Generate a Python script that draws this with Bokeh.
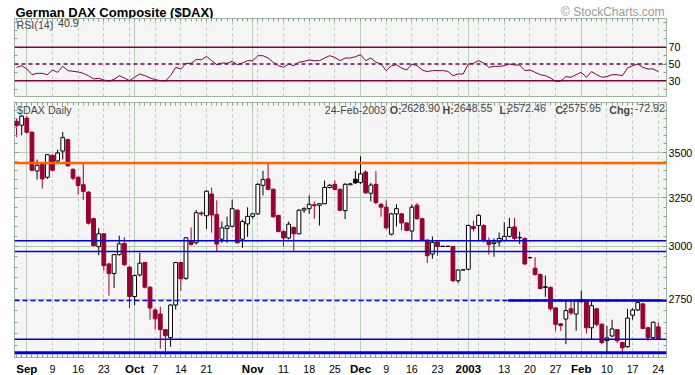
import pandas as pd
from bokeh.plotting import figure
from bokeh.layouts import column
from bokeh.models import (Range1d, FixedTicker, LinearAxis, LogAxis, Grid, Span, Label,
                          ColumnDataSource, CustomJSTickFormatter, PrintfTickFormatter)
from bokeh.core.properties import value
from bokeh.embed import file_html
from bokeh.resources import INLINE

# ---------------- data ----------------
market_holidays = ["2002-12-25", "2003-01-01"]
days = [d for d in pd.bdate_range("2002-08-29", "2003-02-24")
        if d.strftime("%Y-%m-%d") not in market_holidays]
day_str = [d.strftime("%Y-%m-%d") for d in days]

opens = [3685, 3661, 3703, 3619, 3396, 3437, 3361, 3484, 3452, 3509,
         3575, 3405, 3361, 3320, 3280, 3140, 2999, 3063, 2915, 2870,
         2960, 3015, 2900, 2763, 2863, 2922, 2806, 2703, 2685, 2617,
         2583, 2725, 2922, 2847, 3029, 3018, 3170, 3155, 3270, 3162,
         3036, 3090, 3101, 3184, 3036, 3113, 3152, 3165, 3317, 3352,
         3295, 3157, 3075, 3042, 3095, 3063, 3184, 3192, 3213, 3210,
         3218, 3305, 3322, 3295, 3182, 3320, 3350, 3332, 3390, 3274,
         3322, 3215, 3200, 3061, 3165, 3165, 3118, 3077, 3210, 3140,
         3032, 2963, 3022, 3000, 3000, 3000, 2836, 2886, 2890, 3100,
         3105, 3105, 3030, 3015, 3022, 3030, 3050, 3098, 3043, 3040,
         2945, 2895, 2865, 2805, 2805, 2712, 2642, 2663, 2708, 2685,
         2740, 2744, 2625, 2708, 2640, 2570, 2590, 2617, 2562, 2545,
         2680, 2703, 2730, 2625, 2583, 2628.90]
highs = [3700, 3722, 3716, 3625, 3460, 3440, 3490, 3490, 3517, 3620,
         3580, 3410, 3365, 3437, 3285, 3145, 3091, 3066, 2920, 2962,
         3054, 3046, 2905, 2865, 2970, 2925, 2810, 2710, 2717, 2620,
         2728, 2925, 2925, 3045, 3095, 3185, 3178, 3290, 3304, 3236,
         3125, 3150, 3240, 3190, 3135, 3199, 3170, 3330, 3397, 3440,
         3300, 3160, 3080, 3125, 3100, 3190, 3200, 3262, 3230, 3220,
         3343, 3325, 3345, 3300, 3330, 3330, 3397, 3479, 3400, 3330,
         3395, 3222, 3235, 3170, 3215, 3170, 3122, 3215, 3222, 3145,
         3035, 3050, 3025, 3000, 3000, 3002, 2890, 2886, 3110, 3130,
         3165, 3112, 3045, 3040, 3070, 3122, 3144, 3144, 3074, 3045,
         2950, 2947, 2870, 2860, 2810, 2715, 2645, 2744, 2744, 2750,
         2790, 2748, 2744, 2712, 2645, 2633, 2660, 2620, 2566, 2708,
         2710, 2744, 2735, 2630, 2652, 2648.55]
lows = [3591, 3601, 3612, 3395, 3348, 3299, 3352, 3395, 3445, 3460,
        3420, 3345, 3267, 3237, 3110, 3000, 2957, 2883, 2767, 2802,
        2955, 2905, 2712, 2725, 2855, 2800, 2660, 2617, 2537, 2511,
        2544, 2705, 2790, 2840, 3005, 3010, 3155, 3088, 3069, 2975,
        3018, 3018, 3095, 3015, 2993, 3048, 3140, 3160, 3262, 3290,
        3145, 3070, 3000, 3035, 2980, 3060, 3170, 3165, 3140, 3105,
        3215, 3300, 3290, 3180, 3138, 3318, 3325, 3325, 3270, 3230,
        3215, 3150, 3085, 3055, 3100, 3080, 3075, 3029, 3135, 3025,
        2920, 2940, 2955, 3000, 3000, 2830, 2825, 2886, 2885, 3075,
        3029, 3020, 2960, 2950, 3000, 3025, 3045, 3030, 3012, 2910,
        2940, 2860, 2795, 2762, 2700, 2612, 2612, 2555, 2680, 2612,
        2735, 2600, 2576, 2630, 2555, 2520, 2585, 2560, 2523, 2540,
        2660, 2698, 2620, 2570, 2576, 2572.46]
closes = [3659, 3716, 3619, 3400, 3428, 3352, 3488, 3400, 3498, 3587,
          3425, 3356, 3316, 3284, 3117, 3004, 3063, 2907, 2870, 2960,
          3013, 2912, 2763, 2860, 2919, 2806, 2712, 2664, 2617, 2591,
          2725, 2922, 2845, 3043, 3010, 3171, 3165, 3285, 3159, 3012,
          3093, 3103, 3192, 3018, 3125, 3152, 3165, 3322, 3348, 3295,
          3150, 3075, 3042, 3112, 3063, 3184, 3192, 3215, 3208, 3218,
          3305, 3317, 3295, 3184, 3322, 3325, 3330, 3380, 3276, 3318,
          3224, 3200, 3093, 3165, 3192, 3118, 3080, 3200, 3140, 3032,
          2955, 3020, 3000, 3000, 3000, 2836, 2886, 2886, 3105, 3090,
          3157, 3029, 3010, 3022, 3040, 3050, 3095, 3040, 3045, 2915,
          2946, 2865, 2800, 2808, 2708, 2640, 2635, 2700, 2690, 2744,
          2748, 2625, 2722, 2640, 2562, 2582, 2620, 2570, 2540, 2667,
          2703, 2736, 2622, 2583, 2648.87, 2575.95]
rsi = [46.0, 48.0, 44.1, 37.3, 38.9, 38.9, 37.3, 42.9, 40.1, 47.2,
       42.1, 41.3, 40.5, 38.9, 36.1, 32.2, 33.0, 31.0, 29.4, 31.8,
       36.1, 33.4, 30.2, 34.2, 38.1, 36.1, 33.4, 31.4, 30.2, 29.8,
       36.1, 46.0, 44.1, 50.8, 50.8, 55.5, 55.1, 59.1, 54.0, 49.2,
       51.2, 50.8, 53.2, 49.2, 51.2, 54.0, 54.0, 59.9, 59.9, 57.1,
       52.0, 48.0, 46.0, 50.0, 48.0, 52.0, 53.2, 54.8, 54.0, 54.0,
       57.1, 59.9, 57.9, 54.0, 57.1, 57.1, 58.7, 61.1, 54.0, 57.1,
       52.0, 50.0, 42.1, 48.0, 49.2, 45.2, 42.9, 50.0, 48.0, 42.9,
       40.9, 42.1, 42.1, 42.1, 41.3, 36.1, 38.1, 38.1, 50.0, 50.8,
       54.0, 51.2, 46.0, 47.2, 47.2, 48.0, 50.0, 48.8, 48.8, 42.1,
       42.9, 40.1, 37.3, 36.1, 33.4, 29.4, 29.4, 35.0, 34.2, 37.3,
       40.1, 34.2, 40.9, 37.3, 34.2, 35.0, 37.3, 37.3, 36.1, 45.2,
       48.0, 50.0, 46.0, 44.1, 44.1, 40.9]

month_label_dates = ["2002-09-02", "2002-10-01", "2002-11-01", "2002-12-02", "2003-01-02", "2003-02-03"]
month_labels = ["Sep", "Oct", "Nov", "Dec", "2003", "Feb"]
day_label_dates = ["2002-09-09", "2002-09-16", "2002-09-23", "2002-10-07", "2002-10-14", "2002-10-21",
                   "2002-11-11", "2002-11-18", "2002-11-25", "2002-12-09", "2002-12-16", "2002-12-23",
                   "2003-01-13", "2003-01-20", "2003-01-27", "2003-02-10", "2003-02-17", "2003-02-24"]
day_labels = ["9", "16", "23", "7", "14", "21", "11", "18", "25", "9", "16", "23",
              "13", "20", "27", "10", "17", "24"]

price_ticks = [2750, 3000, 3250, 3500]
rsi_ticks = [30, 50, 70]
rsi_levels = [70, 50, 30]
trend_levels = [3440, 3028, 2975, 2576, 2520]
resist_level = 2745
resist_start = "2003-01-14"

# ---------------- styling ----------------
FONT = "Liberation Sans"
BG = "#f5f5f5"
GRID = "#b8ccb8"
OUTLINE = "#9fb59f"
TICK = "#8aa08a"
RED = "#990033"
MAROON = "#800040"
BLUE = "#0000e6"
ORANGE = "#ff6600"
FS = "10.7px"
W = 695
LB, RB = 14, 28

pos = {s: i for i, s in enumerate(day_str)}
xs = list(range(len(days)))
month_idx = [pos[d] for d in month_label_dates]
week_idx = [i for i, d in enumerate(days) if d.weekday() == 0 and i not in month_idx]
day_idx = [pos[d] for d in day_label_dates]

xr = Range1d(-0.4, 126.6)


def empty_axis(cls, ticker, tick_in=3, minor_in=2):
    return cls(ticker=ticker, formatter=CustomJSTickFormatter(code="return ''"),
               major_label_text_font_size="0px", major_label_standoff=0,
               axis_line_color=None, major_tick_in=tick_in, major_tick_out=0,
               minor_tick_in=minor_in, minor_tick_out=0,
               major_tick_line_color=TICK, minor_tick_line_color=TICK)


def style_frame(p):
    p.background_fill_color = BG
    p.border_fill_color = "white"
    p.outline_line_color = OUTLINE
    p.outline_line_width = 1
    p.add_layout(Grid(dimension=0, ticker=FixedTicker(ticks=week_idx),
                      grid_line_color=GRID, grid_line_dash="3 3"))
    p.add_layout(Grid(dimension=0, ticker=FixedTicker(ticks=month_idx),
                      grid_line_color=GRID))


def style_value_axis(ax):
    ax.axis_line_color = None
    ax.major_tick_in = 4
    ax.major_tick_out = 0
    ax.minor_tick_in = 3
    ax.minor_tick_out = 0
    ax.major_tick_line_color = TICK
    ax.minor_tick_line_color = TICK
    ax.major_label_text_font = FONT
    ax.major_label_text_font_size = FS
    ax.major_label_text_color = "black"
    ax.major_label_standoff = 2


def text_strip(height):
    p = figure(width=W, height=height, x_axis_type=None, y_axis_type=None, tools="",
               output_backend="svg", toolbar_location=None,
               min_border_left=LB, min_border_right=RB, min_border_top=0, min_border_bottom=0)
    p.outline_line_color = None
    p.background_fill_color = "white"
    p.border_fill_color = "white"
    return p


# ---------------- header strip (frame spans page x 14..667) ----------------
p0 = text_strip(18)
p0.x_range = Range1d(LB, W - RB)
p0.y_range = Range1d(18, 0)
p0.text(x=[15], y=[11.5], text=["German DAX Composite ($DAX)"], text_font=value(FONT),
        text_font_size="13px", text_font_style="bold", text_baseline="alphabetic",
        text_color="black")
p0.text(x=[665], y=[11.5], text=["\u00a9 StockCharts.com"], text_font=value(FONT),
        text_font_size="12px", text_align="right", text_baseline="alphabetic",
        text_color="#999999")

# ---------------- RSI panel ----------------
rsi_ticker = FixedTicker(ticks=rsi_ticks, minor_ticks=list(range(10, 101, 10)))
p1 = figure(width=W, height=80, x_range=xr, y_range=Range1d(11.3, 104.2),
            x_axis_type=None, y_axis_location="right", tools="",
            output_backend="svg", toolbar_location=None,
            min_border_left=LB, min_border_right=RB, min_border_top=0, min_border_bottom=2)
style_frame(p1)
p1.ygrid.visible = False
p1.yaxis[0].ticker = rsi_ticker
style_value_axis(p1.yaxis[0])
p1.add_layout(empty_axis(LinearAxis, rsi_ticker, 4, 3), "left")
p1.add_layout(empty_axis(LinearAxis, FixedTicker(ticks=[], minor_ticks=xs), 3, 3), "above")

for lvl in rsi_levels:
    p1.add_layout(Span(location=lvl, dimension="width", line_color=MAROON,
                       line_width=1.5, line_dash="4 3" if lvl == 50 else "solid"))
p1.line(xs, rsi, line_color=MAROON, line_width=1)

p1.add_layout(Label(x=2, y=78, x_units="screen", y_units="screen", text="RSI(14)",
                    text_font=FONT, text_font_size=FS, text_baseline="top"))
p1.add_layout(Label(x=43.5, y=78, x_units="screen", y_units="screen", text=f"{rsi[-1]:.1f}",
                    text_font=FONT, text_font_size=FS, text_baseline="top"))

# ---------------- price panel ----------------
price_ticker = FixedTicker(ticks=price_ticks, minor_ticks=list(range(2500, 3801, 50)))
p2 = figure(width=W, height=260, x_range=xr, y_range=Range1d(2500, 3800),
            x_axis_type=None, y_axis_type="log", y_axis_location="right", tools="",
            output_backend="svg", toolbar_location=None,
            min_border_left=LB, min_border_right=RB, min_border_top=4, min_border_bottom=1)
style_frame(p2)
p2.yaxis[0].ticker = price_ticker
p2.yaxis[0].formatter = PrintfTickFormatter(format="%d")
style_value_axis(p2.yaxis[0])
p2.ygrid[0].grid_line_color = GRID
p2.add_layout(empty_axis(LogAxis, price_ticker, 4, 3), "left")
p2.add_layout(empty_axis(LinearAxis, FixedTicker(ticks=day_idx + month_idx, minor_ticks=xs), 3, 3), "below")
p2.add_layout(empty_axis(LinearAxis, FixedTicker(ticks=[], minor_ticks=xs), 3, 3), "above")

prev_close = [None] + closes[:-1]
colors = [RED if (pc is not None and c < pc) or (pc is None and c < o) else "black"
          for o, c, pc in zip(opens, closes, prev_close)]
fills = ["white" if c > o else col for o, c, col in zip(opens, closes, colors)]
tops = [max(o, c) if o != c else o * 1.0004 for o, c in zip(opens, closes)]
bottoms = [min(o, c) for o, c in zip(opens, closes)]
src = ColumnDataSource(dict(x=xs, h=highs, l=lows, top=tops, bottom=bottoms,
                            color=colors, fill=fills))
p2.segment(x0="x", y0="l", x1="x", y1="h", line_color="color", line_width=1, source=src)
p2.vbar(x="x", width=0.74, top="top", bottom="bottom", fill_color="fill",
        line_color="color", line_width=1, source=src)

trend_colors = [ORANGE, BLUE, BLUE, BLUE, BLUE]
trend_widths = [2.5, 1.5, 1.5, 1.5, 3]
for lvl, col, w in zip(trend_levels, trend_colors, trend_widths):
    p2.add_layout(Span(location=lvl, dimension="width", line_color=col, line_width=w))
p2.add_layout(Span(location=resist_level, dimension="width", line_color=BLUE,
                   line_width=1.5, line_dash="5 3"))
p2.segment(x0=[pos[resist_start] - 0.25], y0=[resist_level], x1=[130], y1=[resist_level],
           line_color=BLUE, line_width=2.5)

p2.add_layout(Label(x=2.5, y=254, x_units="screen", y_units="screen", text="$DAX Daily",
                    text_font=FONT, text_font_size=FS, text_baseline="top"))
info = [("24-Feb-2003", 310.3, "normal", "left"), ("O:", 375.3, "bold", "left"),
        ("2628.90", 386.7, "normal", "left"), ("H:", 428.0, "bold", "left"),
        ("2648.55", 439.3, "normal", "left"), ("L:", 485.0, "bold", "left"),
        ("2572.46", 492.7, "normal", "left"), ("C:", 541.0, "bold", "left"),
        ("2575.95", 547.7, "normal", "left"), ("Chg:", 619.0, "bold", "right"),
        ("-72.92", 650.5, "normal", "right")]
for txt, xx, st, al in info:
    p2.add_layout(Label(x=xx, y=254, x_units="screen", y_units="screen", text=txt,
                        text_font=FONT, text_font_size=FS, text_font_style=st,
                        text_align=al, text_baseline="top"))

# ---------------- x-axis label strip ----------------
p3 = text_strip(17)
p3.x_range = xr
p3.y_range = Range1d(17, 0)
p3.text(x=day_idx, y=[10.5] * len(day_idx), text=day_labels, text_font=value(FONT),
        text_font_size=FS, text_align="center", text_baseline="alphabetic", text_color="black")
p3.text(x=month_idx, y=[10.5] * len(month_idx), text=month_labels, text_font=value(FONT),
        text_font_size="11.5px", text_font_style="bold", text_align="center",
        text_baseline="alphabetic", text_color="black")

layout = column(p0, p1, p2, p3, spacing=0)
open("out.html", "w").write(file_html(layout, INLINE))
